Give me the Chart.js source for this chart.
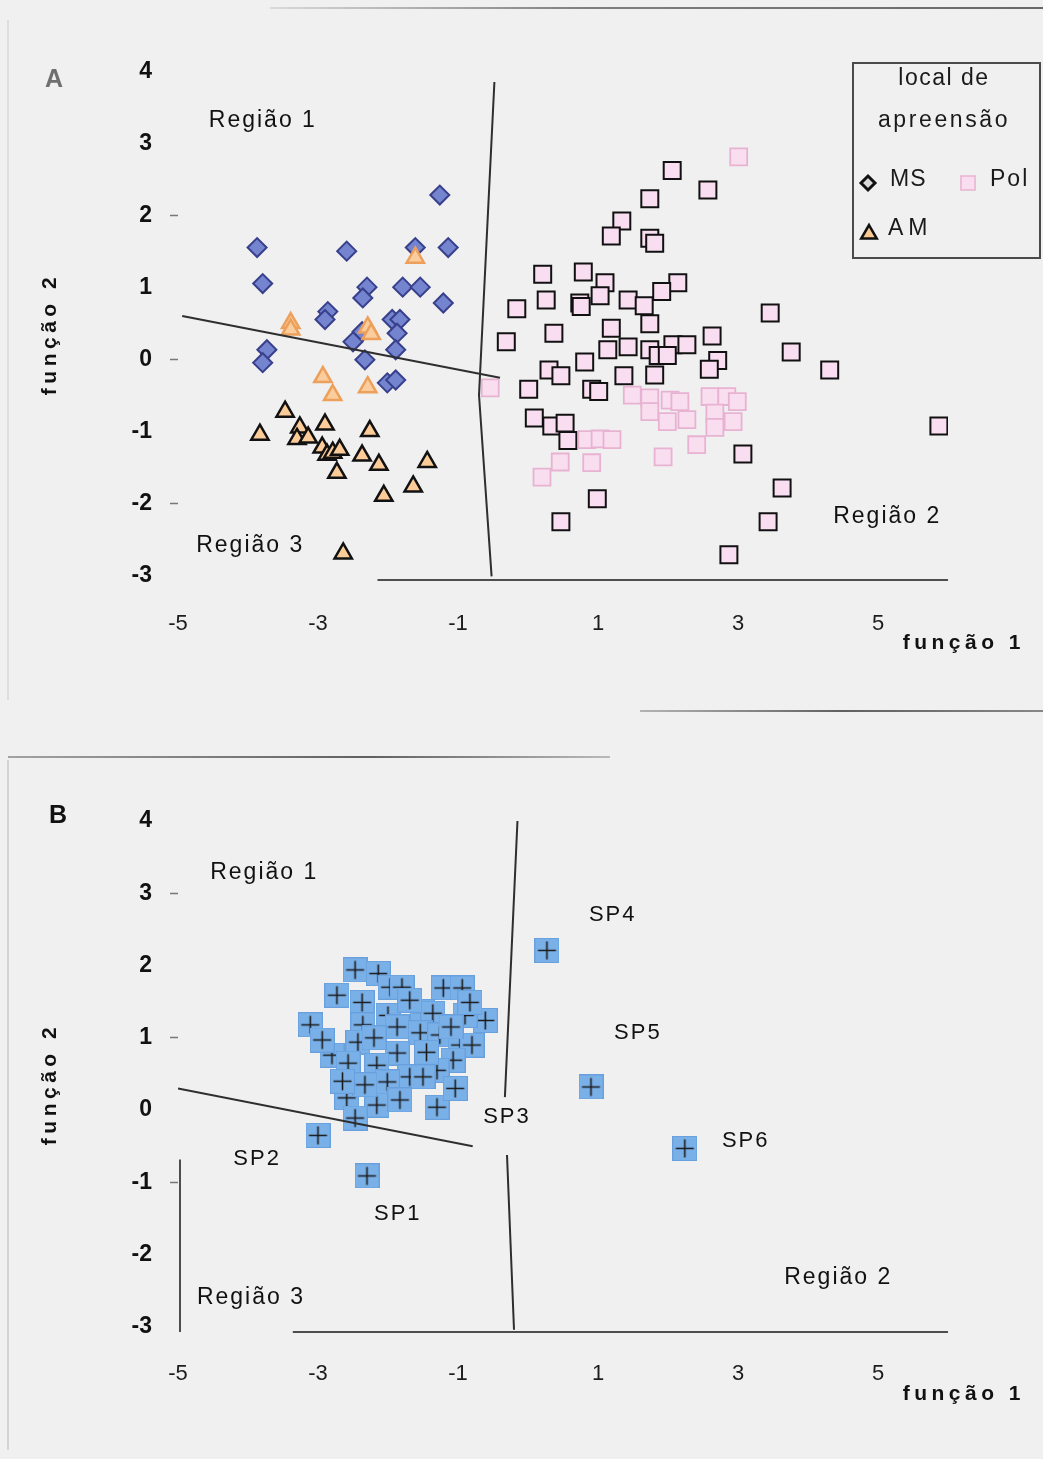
<!DOCTYPE html>
<html>
<head>
<meta charset="utf-8">
<script src="https://cdn.jsdelivr.net/npm/chart.js@4/dist/chart.umd.min.js"></script>
<style>
  html, body { margin: 0; padding: 0; background: #f0f0f0; }
  body { width: 1043px; height: 1459px; position: relative; overflow: hidden; }
  canvas { position: absolute; left: 0; }
  #chartA { top: 0; }
  #chartB { top: 740px; }
  .rule { position: absolute; height: 2px; }
</style>
</head>
<body>
<div class="rule" style="left:270px; top:7px; width:773px; background:linear-gradient(90deg, rgba(150,150,150,0.25), rgba(90,90,90,0.75) 40%, rgba(70,70,70,0.8));"></div>
<div class="rule" style="left:640px; top:710px; width:403px; background:linear-gradient(90deg, rgba(120,120,120,0.5), rgba(60,60,60,0.8) 50%, rgba(90,90,90,0.7));"></div>
<div class="rule" style="left:8px; top:756px; width:602px; background:linear-gradient(90deg, rgba(110,110,110,0.6), rgba(60,60,60,0.8) 60%, rgba(130,130,130,0.5));"></div>
<div class="rule" style="left:7px; top:20px; width:2px; height:680px; background:rgba(190,190,190,0.35);"></div>
<div class="rule" style="left:7px; top:760px; width:2px; height:690px; background:rgba(170,170,170,0.4);"></div>

<canvas id="chartA" width="1043" height="700" style="width:1043px;height:700px"></canvas>
<canvas id="chartB" width="1043" height="719" style="width:1043px;height:719px"></canvas>

<script>
// ---------- shared axes ----------
const xTicks = [-5, -3, -1, 1, 3, 5];
const yTicks = [-3, -2, -1, 0, 1, 2, 3, 4];

// ---------- A: discriminant scores by local de apreensão ----------
const msX = [-1.26, -3.87, -2.59, -1.61, -1.14, -3.79, -2.30, -2.36, -1.79, -1.54, -1.21, -2.86,
             -2.90, -1.94, -1.83, -2.37, -1.87, -2.50, -1.89, -3.73, -3.79, -2.33, -2.01, -1.89];
const msY = [2.29, 1.56, 1.51, 1.56, 1.56, 1.06, 1.01, 0.86, 1.01, 1.01, 0.79, 0.67,
             0.56, 0.56, 0.56, 0.39, 0.37, 0.25, 0.14, 0.14, -0.04, 0.00, -0.32, -0.28];

// AM cases lying in Região 1
const amUpperX = [-1.61, -3.39, -3.39, -2.29, -2.24, -2.93, -2.79, -2.29];
const amUpperY = [1.42, 0.51, 0.42, 0.45, 0.36, -0.24, -0.49, -0.38];
// AM cases lying in Região 3
const amLowerX = [-3.47, -3.83, -3.26, -3.30, -3.14, -2.90, -2.94, -2.87, -2.79, -2.69, -2.73,
                  -2.26, -2.37, -2.13, -1.44, -1.64, -2.06, -2.64];
const amLowerY = [-0.72, -1.04, -0.94, -1.10, -1.08, -0.90, -1.22, -1.32, -1.29, -1.25, -1.57,
                  -0.99, -1.33, -1.46, -1.42, -1.76, -1.89, -2.69];

// Pol cases (outlined)
const polX = [2.06, 2.57, 1.74, 1.34, 1.19, 1.74, 1.81, 0.21, 0.79, 1.10, 1.03, 2.14, 1.91, 1.43,
              1.66, 0.26, -0.16, 0.74, 0.76, 3.46, 0.37, 1.19, 1.74, 2.63, -0.31, 1.14, 1.43, 1.74,
              2.07, 2.27, 1.86, 1.99, 0.81, 2.71, 2.59, 0.30, 0.47, 1.37, 1.81, 0.01, 0.91, 1.01,
              3.76, 4.31, 0.09, 0.34, 0.53, 0.57, 3.07, 3.63, 5.87, 0.99, 0.47, 3.43, 2.87];
const polY = [2.63, 2.36, 2.24, 1.93, 1.72, 1.69, 1.62, 1.19, 1.22, 1.07, 0.89, 1.07, 0.95, 0.83,
              0.75, 0.83, 0.71, 0.79, 0.74, 0.65, 0.37, 0.44, 0.50, 0.33, 0.25, 0.14, 0.18, 0.14,
              0.21, 0.21, 0.06, 0.06, -0.03, -0.01, -0.13, -0.14, -0.22, -0.22, -0.21, -0.41, -0.41, -0.44,
              0.11, -0.14, -0.81, -0.92, -0.88, -1.12, -1.31, -1.78, -0.92, -1.93, -2.25, -2.25, -2.71];
// Pol cases (light)
const polLightX = [1.49, 1.74, 2.03, 2.17, 2.60, 2.84, 2.99, 1.74, 1.99, 2.27, 2.67, 2.93, 2.67,
                   2.41, 1.93, 0.84, 1.03, 1.20, 0.46, 0.91, 0.20, -0.54, 3.01];
const polLightY = [-0.49, -0.53, -0.56, -0.58, -0.51, -0.51, -0.58, -0.72, -0.86, -0.83, -0.74, -0.86, -0.94,
                   -1.18, -1.35, -1.11, -1.10, -1.11, -1.42, -1.43, -1.63, -0.39, 2.82];

// territorial boundaries, panel A
const edgeA13X = [-4.94, -0.40];
const edgeA13Y = [0.61, -0.25];
const edgeA2X = [-0.48, -0.70, -0.52];
const edgeA2Y = [3.86, -0.49, -3.01];

// ---------- B: discriminant scores of the SP samples ----------
const spX = [-2.47, -2.14, -1.97, -1.80, -2.73, -2.37, -1.21, -0.94, -2.00, -1.51, -1.36, -0.61,
             -0.90, -3.11, -2.36, -1.87, -1.54, -1.26, -2.43, -0.97, -0.80, -2.80, -1.87, -2.57,
             -2.16, -1.07, -1.30, -1.69, -2.01, -1.50, -2.59, -2.16, -1.30, -2.47,
             -2.94, -0.83, -1.69, -2.33, -1.83, -1.04, -2.20, -1.10, -2.65, -1.45,
             0.27, 0.90, 2.24, -3.00, -2.30];
const spY = [1.94, 1.89, 1.70, 1.70, 1.59, 1.49, 1.69, 1.69, 1.31, 1.36, 1.34, 1.24,
             1.31, 1.18, 1.18, 1.15, 1.07, 1.04, 0.94, 0.90, 0.90, 0.76, 0.79, 0.65,
             0.62, 0.69, 0.55, 0.46, 0.39, 0.46, 0.17, 0.07, 0.04, -0.11,
             0.97, 1.49, 1.52, 0.35, 0.14, 0.30, 1.00, 1.15, 0.40, 0.80,
             2.21, 0.32, -0.53, -0.35, -0.91];

// territorial boundaries, panel B (the vertical one is interrupted at the SP3 label)
const edgeB13X = [-5.00, -0.79];
const edgeB13Y = [0.30, -0.50];
const edgeB2X = [-0.15, -0.33, -0.32, -0.30, -0.20];
const edgeB2Y = [4.01, 0.18, null, -0.62, -3.04];

// ---------- helpers ----------
const FONT = '"Liberation Sans", Arial, sans-serif';
const pts = (xs, ys) => xs.map((x, i) => ({ x: x, y: ys[i] }));

function text(ctx, str, x, y, font, color, align, spacing, rot) {
  ctx.save();
  ctx.font = font;
  ctx.fillStyle = color;
  ctx.textAlign = align || 'left';
  ctx.textBaseline = 'middle';
  if ('letterSpacing' in ctx) ctx.letterSpacing = (spacing || 0) + 'px';
  ctx.translate(x, y);
  if (rot) ctx.rotate(rot);
  ctx.fillText(str, 0, 0);
  ctx.restore();
}

function marker(ctx, style, radius, x, y, fill, stroke, width) {
  ctx.save();
  ctx.fillStyle = fill;
  ctx.strokeStyle = stroke;
  ctx.lineWidth = width;
  Chart.helpers.drawPoint(ctx, { pointStyle: style, radius: radius, rotation: 0, borderWidth: width }, x, y);
  ctx.restore();
}

// blue tile with a plus sign, used as point style in panel B
function plusTile(side) {
  const c = document.createElement('canvas');
  c.width = c.height = side;
  const g = c.getContext('2d');
  g.fillStyle = 'rgb(122,176,232)';
  g.fillRect(0, 0, side, side);
  g.strokeStyle = 'rgb(104,160,222)';
  g.lineWidth = 1;
  g.strokeRect(0.5, 0.5, side - 1, side - 1);
  g.strokeStyle = '#1b1b1b';
  g.lineWidth = 1.6;
  const m = side / 2, a = side * 0.36;
  g.beginPath();
  g.moveTo(m - a, m); g.lineTo(m + a, m);
  g.moveTo(m, m - a); g.lineTo(m, m + a);
  g.stroke();
  return c;
}

// free annotations: axis rules, titles, region labels, legend
function makeDecor(cfg) {
  return {
    id: 'decor',
    afterDatasetsDraw(chart) {
      const ctx = chart.ctx, sx = chart.scales.x, sy = chart.scales.y;
      ctx.save();
      ctx.strokeStyle = '#4d4d4d';
      ctx.lineWidth = 2;
      cfg.rules.forEach(r => {
        ctx.beginPath();
        if (r.axis === 'x') {
          const yb = chart.chartArea.bottom;
          ctx.moveTo(sx.getPixelForValue(r.from), yb);
          ctx.lineTo(sx.getPixelForValue(r.to), yb);
        } else {
          const xl = chart.chartArea.left + 2;
          ctx.moveTo(xl, sy.getPixelForValue(r.from));
          ctx.lineTo(xl, sy.getPixelForValue(r.to) + 6);
        }
        ctx.stroke();
      });
      ctx.restore();
      cfg.notes.forEach(n => text(ctx, n.t, sx.getPixelForValue(n.x), sy.getPixelForValue(n.y),
                                  n.font, '#111', 'left', n.sp));
      cfg.texts.forEach(n => text(ctx, n.t, n.px, n.py, n.font, n.color || '#111', n.align, n.sp, n.rot));
      if (cfg.legend) cfg.legend(ctx);
    }
  };
}

function drawLegendA(ctx) {
  ctx.save();
  ctx.strokeStyle = '#4a4a4a';
  ctx.lineWidth = 2;
  ctx.strokeRect(853, 63, 187, 195);
  ctx.restore();
  const f = '400 23px ' + FONT;
  text(ctx, 'local de', 944, 79, f, '#1a1a1a', 'center', 1.5);
  text(ctx, 'apreensão', 944, 121, f, '#1a1a1a', 'center', 2.6);
  marker(ctx, 'rectRot', 7, 868, 183, '#d9d9d9', '#111', 3);
  text(ctx, 'MS', 890, 180, f, '#1a1a1a', 'left', 1);
  marker(ctx, 'rect', 10, 968, 183, 'rgb(248,222,238)', 'rgb(232,178,210)', 1.5);
  text(ctx, 'Pol', 990, 180, f, '#1a1a1a', 'left', 2);
  marker(ctx, 'triangle', 9, 869, 234, 'rgb(251,200,146)', '#111', 2.5);
  text(ctx, 'AM', 888, 229, f, '#1a1a1a', 'left', 5);
}

const regionFont = '400 23px ' + FONT;
const spFont = '400 22px ' + FONT;
const titleFont = '700 21px ' + FONT;

function buildChart(id, datasets, lay, decorCfg, tickOn) {
  return new Chart(document.getElementById(id), {
    type: 'scatter',
    data: { datasets: datasets },
    options: {
      responsive: false,
      animation: false,
      events: [],
      layout: { padding: { left: 0, right: 95, top: lay.top, bottom: lay.bottom } },
      plugins: { legend: { display: false }, tooltip: { enabled: false } },
      scales: {
        x: {
          type: 'linear', min: -5, max: 6,
          afterFit: s => { s.height = 60; },
          afterBuildTicks: s => { s.ticks = xTicks.map(v => ({ value: v })); },
          grid: { display: false },
          border: { display: false },
          ticks: { padding: lay.xPad, color: '#1c1c1c', font: { family: FONT, size: 22 },
                   callback: v => String(v) }
        },
        y: {
          type: 'linear', min: lay.yMin, max: 4,
          afterFit: s => { s.width = 178; },
          afterBuildTicks: s => { s.ticks = yTicks.map(v => ({ value: v })); },
          grid: { display: true, drawOnChartArea: false, drawTicks: true, tickLength: 8, tickWidth: 1.5,
                  tickColor: c => (tickOn.includes(c.tick && c.tick.value) ? '#777' : 'rgba(0,0,0,0)') },
          border: { display: false },
          ticks: { padding: 18, color: '#111', font: { family: FONT, size: 23, weight: 'bold' },
                   callback: v => String(v) }
        }
      }
    },
    plugins: [makeDecor(decorCfg)]
  });
}

const lineStyle = { showLine: true, pointRadius: 0, borderColor: '#2e2e2e', borderWidth: 2, fill: false, spanGaps: false };

// ---------- panel A ----------
buildChart('chartA', [
  Object.assign({ label: 'limite 1-3', data: pts(edgeA13X, edgeA13Y), order: 0 }, lineStyle),
  Object.assign({ label: 'limite 2', data: pts(edgeA2X, edgeA2Y), order: 0 }, lineStyle),
  { label: 'AM', data: pts(amUpperX, amUpperY), order: 1, pointStyle: 'triangle', pointRadius: 10,
    backgroundColor: 'rgb(251,204,156)', borderColor: 'rgb(236,160,92)', borderWidth: 2.5 },
  { label: 'AM', data: pts(amLowerX, amLowerY), order: 1, pointStyle: 'triangle', pointRadius: 10,
    backgroundColor: 'rgb(251,204,152)', borderColor: '#111', borderWidth: 2.5 },
  { label: 'Pol', data: pts(polLightX, polLightY), order: 2, pointStyle: 'rect', pointRadius: 12,
    backgroundColor: 'rgb(248,222,238)', borderColor: 'rgb(232,178,210)', borderWidth: 1.8 },
  { label: 'Pol', data: pts(polX, polY), order: 3, pointStyle: 'rect', pointRadius: 12,
    backgroundColor: 'rgb(248,222,240)', borderColor: '#111', borderWidth: 2 },
  { label: 'MS', data: pts(msX, msY), order: 4, pointStyle: 'rectRot', pointRadius: 9.5,
    backgroundColor: 'rgb(116,132,206)', borderColor: 'rgb(56,64,140)', borderWidth: 2 }
], { top: 72, bottom: 60, yMin: -3.06, xPad: 23 }, {
  rules: [{ axis: 'x', from: -2.15, to: 6 }],
  notes: [
    { t: 'Região 1', x: -4.56, y: 3.32, font: regionFont, sp: 2 },
    { t: 'Região 3', x: -4.74, y: -2.58, font: regionFont, sp: 2 },
    { t: 'Região 2', x: 4.36, y: -2.18, font: regionFont, sp: 2 }
  ],
  texts: [
    { t: 'A', px: 54, py: 80, font: '700 25px ' + FONT, color: '#6f6f6f', align: 'center' },
    { t: 'função 1', px: 1025, py: 643, font: titleFont, align: 'right', sp: 4.5 },
    { t: 'função 2', px: 50, py: 334, font: titleFont, align: 'center', sp: 4.5, rot: -Math.PI / 2 }
  ],
  legend: drawLegendA
}, [2, 0, -2]);

// ---------- panel B ----------
buildChart('chartB', [
  Object.assign({ label: 'limite 1-3', data: pts(edgeB13X, edgeB13Y), order: 0 }, lineStyle),
  Object.assign({ label: 'limite 2', data: pts(edgeB2X, edgeB2Y), order: 0 }, lineStyle),
  { label: 'SP', data: pts(spX, spY), order: 1, pointStyle: plusTile(25), pointRadius: 12 }
], { top: 81, bottom: 67, yMin: -3.07, xPad: 21 }, {
  rules: [{ axis: 'x', from: -3.36, to: 6 }, { axis: 'y', from: -3.07, to: -0.6 }],
  notes: [
    { t: 'Região 1', x: -4.54, y: 3.29, font: regionFont, sp: 2 },
    { t: 'Região 3', x: -4.73, y: -2.59, font: regionFont, sp: 2 },
    { t: 'Região 2', x: 3.66, y: -2.32, font: regionFont, sp: 2 },
    { t: 'SP4', x: 0.87, y: 2.70, font: spFont, sp: 2 },
    { t: 'SP5', x: 1.23, y: 1.07, font: spFont, sp: 2 },
    { t: 'SP3', x: -0.64, y: -0.10, font: spFont, sp: 2 },
    { t: 'SP6', x: 2.77, y: -0.43, font: spFont, sp: 2 },
    { t: 'SP2', x: -4.21, y: -0.68, font: spFont, sp: 2 },
    { t: 'SP1', x: -2.20, y: -1.44, font: spFont, sp: 2 }
  ],
  texts: [
    { t: 'B', px: 58, py: 76, font: '700 25px ' + FONT, color: '#111', align: 'center' },
    { t: 'função 1', px: 1025, py: 654, font: titleFont, align: 'right', sp: 4.5 },
    { t: 'função 2', px: 50, py: 344, font: titleFont, align: 'center', sp: 4.5, rot: -Math.PI / 2 }
  ]
}, [3, 1, -1]);
</script>
</body>
</html>
